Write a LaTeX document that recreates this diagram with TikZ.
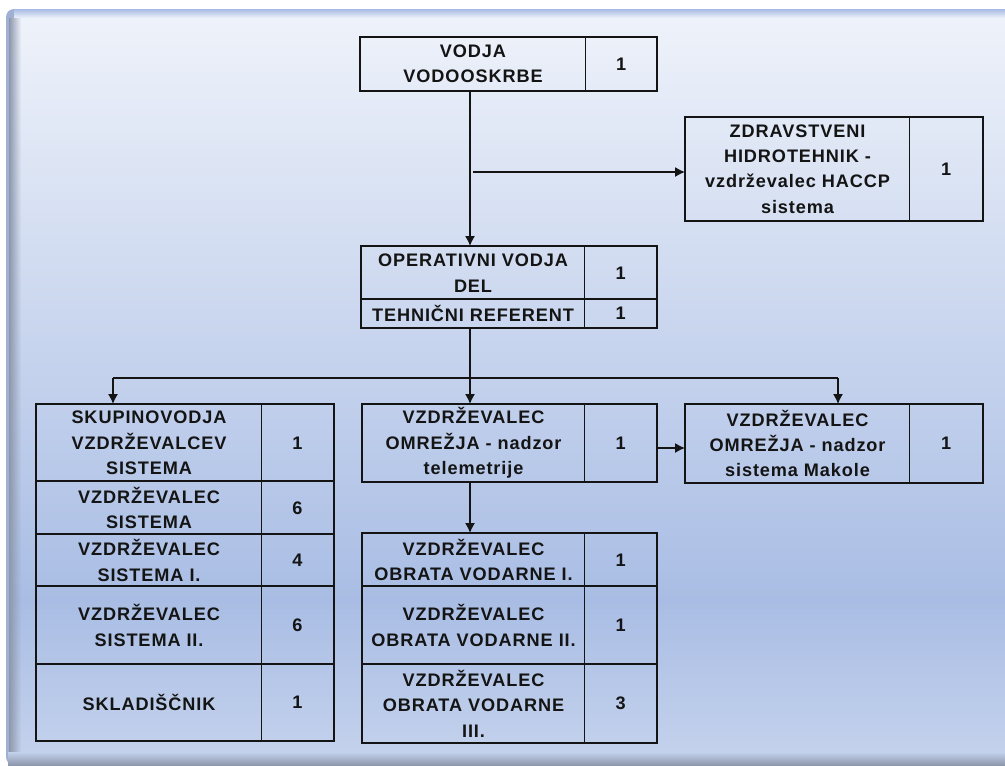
\documentclass[tikz,border=0pt]{standalone}
\usepackage{fontspec}
\newfontfamily\cellfont{Liberation Sans Bold}[LetterSpace=5]
\usepackage{tikz}
\usetikzlibrary{arrows.meta,fadings}

\newcommand{\pxu}{0.75pt}
\definecolor{pantop}{HTML}{EEF2FA}
\definecolor{panmid}{HTML}{A9BDE4}
\definecolor{panbot}{HTML}{C3D1EC}
\definecolor{panedge}{HTML}{8E98AD}
\definecolor{panband}{HTML}{A6BBE4}
\definecolor{ink}{HTML}{141414}

\begin{document}
\begin{tikzpicture}[x=0.75pt,y=-0.75pt]
	
	\tikzset{cell/.style = {draw=ink,line width=0.8pt,anchor=north west,inner sep=0pt,align=center,text=ink,
		font=\cellfont\fontsize{13.6}{19}\selectfont}}
	\tikzset{box/.style 2 args = {cell,minimum width=#1*\pxu,minimum height=#2*\pxu}}
	\tikzset{outline/.style = {draw=ink,line width=2pt}}
	\tikzset{rowline/.style = {draw=ink,line width=1.4pt}}
	\tikzset{conn/.style = {draw=ink,line width=1pt}}
	\tikzset{edge/.style = {conn,->,> = {Latex[length=7.5pt,width=7.5pt]}}}
	
	\useasboundingbox (0,0) rectangle (1005,765);
	\fill[white] (0,0) rectangle (1005,765);
	\fill[panband!70!panedge,rounded corners=6pt] (6,9) rectangle (1015,765);
	\shade[top color=panband,bottom color=pantop] (14,9) rectangle (1005,18);
	\shade[top color=pantop,bottom color=panmid] (9,18) rectangle (1005,600);
	\shade[top color=panmid,bottom color=panbot] (9,600) rectangle (1005,752);
	\fill[panedge,path fading=east] (9,18) rectangle (21,752);
	\shade[top color=panbot,bottom color=panedge] (8,752) rectangle (1005,765);
	
	\node[box={225}{53}] (vodja) at (360,37) {VODJA\\VODOOSKRBE};
	\node[box={71}{53}] (vodja-n) at (585,37) {1};
	\draw[outline] (vodja.north west) rectangle (vodja-n.south east);
	
	\node[box={224}{103}] (zdrav) at (685,117) {ZDRAVSTVENI\\HIDROTEHNIK -\\vzdr\v{z}evalec HACCP\\sistema};
	\node[box={73}{103}] (zdrav-n) at (909,117) {1};
	\draw[outline] (zdrav.north west) rectangle (zdrav-n.south east);
	
	\node[box={223}{53}] (oper) at (361,246) {OPERATIVNI VODJA\\DEL};
	\node[box={72}{53}] (oper-n) at (584,246) {1};
	\node[box={223}{28}] (tehn) at (361,299) {TEHNI\v{C}NI REFERENT};
	\node[box={72}{28}] (tehn-n) at (584,299) {1};
	\draw[rowline] (tehn.north west) -- (tehn-n.north east);
	\draw[outline] (oper.north west) rectangle (tehn-n.south east);
	
	\node[box={225}{77}] (skup) at (36,404) {SKUPINOVODJA\\VZDR\v{Z}EVALCEV\\SISTEMA};
	\node[box={72}{77}] (skup-n) at (261,404) {1};
	\node[box={225}{53}] (vzs) at (36,481) {VZDR\v{Z}EVALEC\\SISTEMA};
	\node[box={72}{53}] (vzs-n) at (261,481) {6};
	\node[box={225}{52}] (vzs1) at (36,534) {VZDR\v{Z}EVALEC\\SISTEMA I.};
	\node[box={72}{52}] (vzs1-n) at (261,534) {4};
	\node[box={225}{78}] (vzs2) at (36,586) {VZDR\v{Z}EVALEC\\SISTEMA II.};
	\node[box={72}{78}] (vzs2-n) at (261,586) {6};
	\node[box={225}{76}] (sklad) at (36,664) {SKLADI\v{S}\v{C}NIK};
	\node[box={72}{76}] (sklad-n) at (261,664) {1};
	\foreach \r in {vzs,vzs1,vzs2,sklad}
		\draw[rowline] (\r.north west) -- (\r-n.north east);
	\draw[outline] (skup.north west) rectangle (sklad-n.south east);
	
	\node[box={222}{77}] (omr) at (362,404) {VZDR\v{Z}EVALEC\\OMRE\v{Z}JA - nadzor\\telemetrije};
	\node[box={72}{77}] (omr-n) at (584,404) {1};
	\draw[outline] (omr.north west) rectangle (omr-n.south east);
	
	\node[box={224}{78}] (makole) at (685,404) {VZDR\v{Z}EVALEC\\OMRE\v{Z}JA - nadzor\\sistema Makole};
	\node[box={73}{78}] (makole-n) at (909,404) {1};
	\draw[outline] (makole.north west) rectangle (makole-n.south east);
	
	\node[box={222}{53}] (vod1) at (362,533) {VZDR\v{Z}EVALEC\\OBRATA VODARNE I.};
	\node[box={72}{53}] (vod1-n) at (584,533) {1};
	\node[box={222}{78}] (vod2) at (362,586) {VZDR\v{Z}EVALEC\\OBRATA VODARNE II.};
	\node[box={72}{78}] (vod2-n) at (584,586) {1};
	\node[box={222}{78}] (vod3) at (362,664) {VZDR\v{Z}EVALEC\\OBRATA VODARNE\\III.};
	\node[box={72}{78}] (vod3-n) at (584,664) {3};
	\foreach \r in {vod2,vod3}
		\draw[rowline] (\r.north west) -- (\r-n.north east);
	\draw[outline] (vod1.north west) rectangle (vod3-n.south east);
	
	\coordinate (top) at (470,90);
	\path (top) ++(0,288) coordinate (bus);
	\coordinate (busL) at (113,378);
	\coordinate (busR) at (838,378);
	
	\draw[edge] (top) to (top |- oper.north);
	\draw[edge] ([xshift=3*\pxu]top |- 0,172) to (zdrav.west |- 0,172);
	\draw[conn] (top |- tehn.south) to (bus);
	\draw[conn] (busL) to (busR);
	\draw[edge] (busL) to (busL |- skup.north);
	\draw[edge] (bus) to (bus |- omr.north);
	\draw[edge] (busR) to (busR |- makole.north);
	\draw[edge] (omr-n.east |- 0,448) to (makole.west |- 0,448);
	\draw[edge] (bus |- omr.south) to (vod1.north -| bus);
\end{tikzpicture}
\end{document}
